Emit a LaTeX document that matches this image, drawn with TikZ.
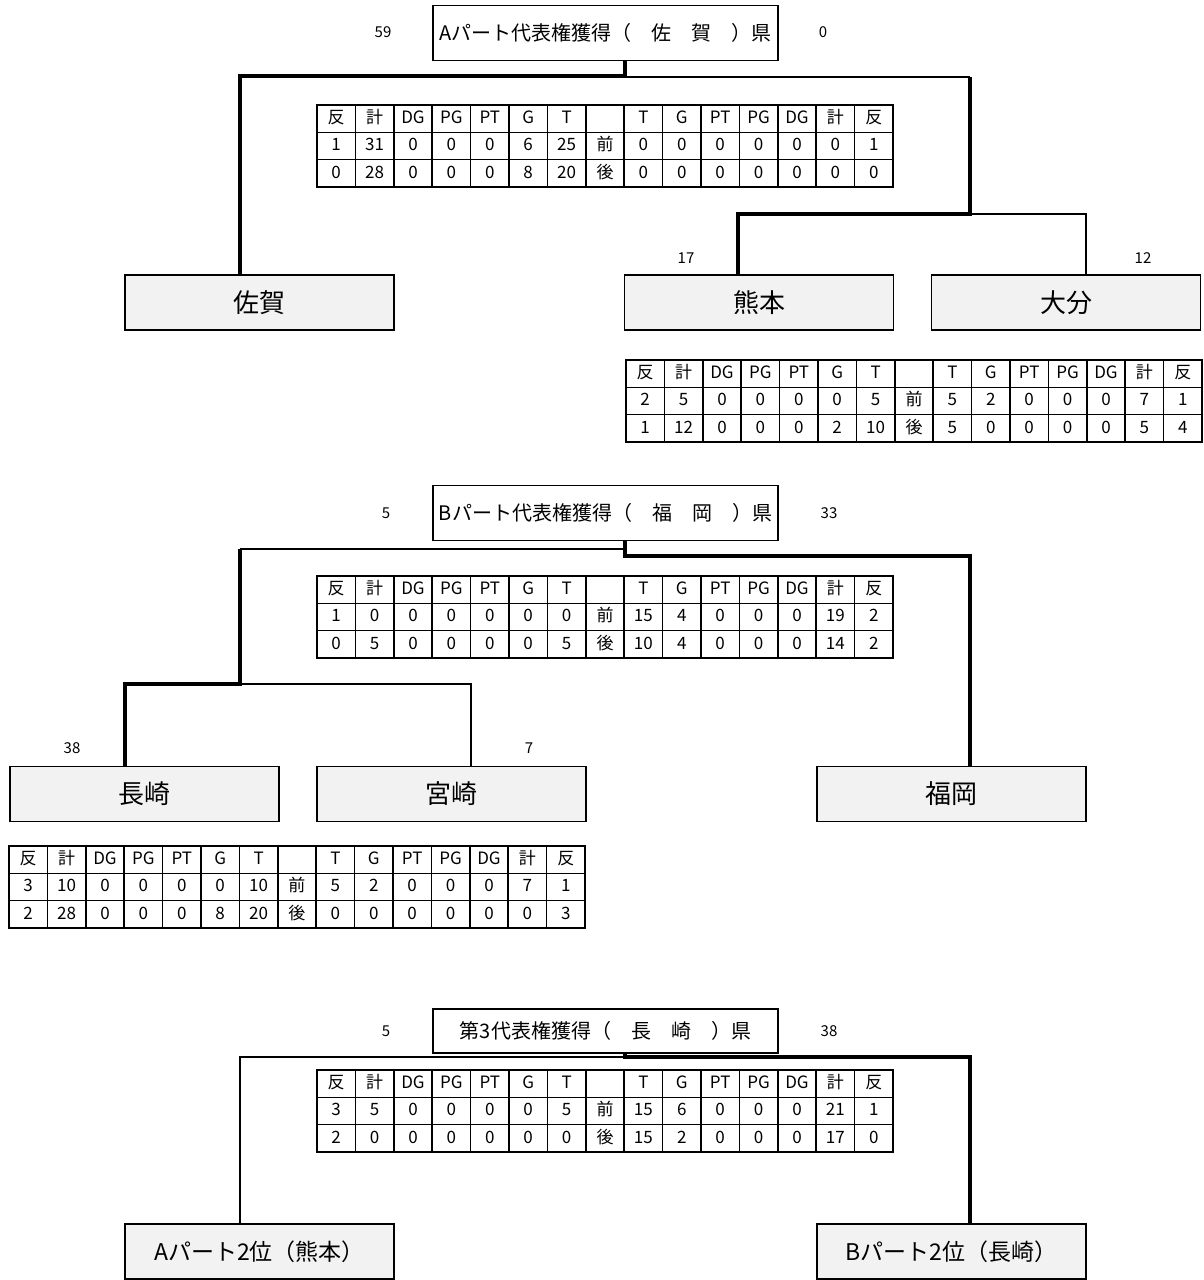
\documentclass[tikz,border=0pt]{standalone}
\usepackage{fontspec}
\newfontfamily\jpfont{Noto Sans CJK JP}
\usetikzlibrary{matrix}
\definecolor{boxgray}{HTML}{F2F2F2}

\tikzset{
  team/.style={draw, line width=1.5pt, fill=boxgray, inner sep=0pt,
    minimum width=269pt, minimum height=55pt, font=\jpfont\fontsize{26}{29}\selectfont},
  second/.style={team, font=\jpfont\fontsize{23}{26}\selectfont},
  final/.style={draw, line width=1.5pt, fill=white, inner sep=0pt,
    minimum width=345pt, minimum height=55pt, font=\jpfont\fontsize{20}{24}\selectfont},
  pts/.style={inner sep=0pt, font=\jpfont\fontsize{15}{17}\selectfont},
  win/.style={line width=4.5pt},
  lose/.style={line width=1.5pt},
  scoretab/.style={matrix of nodes, ampersand replacement=\&, nodes in empty cells,
    anchor=north west, inner sep=0pt, column sep=-1.6pt, row sep=-1.6pt,
    nodes={draw, line width=1.6pt, inner sep=0pt, anchor=center,
      minimum width=38.4pt, minimum height=27.3pt, text height=12pt, text depth=2pt,
      font=\jpfont\fontsize{17}{19}\selectfont}}
}

\newcommand{\scoresheet}[4]{%
  \matrix (#1) [scoretab] at (#2) {
    反 \& 計 \& DG \& PG \& PT \& G \& T \& \& T \& G \& PT \& PG \& DG \& 計 \& 反 \\
    #3 \\
    #4 \\
  };}

\begin{document}
\begin{tikzpicture}[x=1pt,y=-1pt]
\useasboundingbox (0,0) rectangle (1204,1280);
%
% A part
\node[final] (finA) at (605.5,33) {Aパート代表権獲得（　佐　賀　）県};
\node[pts] (ptsA1) at (383,32) {59};
\node[pts] (ptsA2) at (823,32) {0};
\node[team] (saga) at (259.5,302.5) {佐賀};
\node[team] (kuma) at (759,302.5) {熊本};
\node[team] (oita) at (1066,302.5) {大分};
\node[pts] (ptsK) at (686,258) {17};
\node[pts] (ptsO) at (1143,258) {12};
%
\coordinate (jA) at (625,76);
\coordinate (jAL) at (240,76);
\coordinate (jAR) at (970,77);
\coordinate (jK) at (970,214);
\coordinate (jKL) at (738,214);
\coordinate (jKR) at (1086,214);
\draw[win] (jA |- finA.south) -- (jA) -- (jAL) -- (jAL |- saga.north);
\draw[lose] (jA |- jAR) -- (jAR);
\draw[win] (jAR) -- (jK) -- (jKL) -- (jKL |- kuma.north);
\draw[lose] (jK) -- (jKR) -- (jKR |- oita.north);
%
\scoresheet{tabA}{316,104}
  {1 \& 31 \& 0 \& 0 \& 0 \& 6 \& 25 \& 前 \& 0 \& 0 \& 0 \& 0 \& 0 \& 0 \& 1}
  {0 \& 28 \& 0 \& 0 \& 0 \& 8 \& 20 \& 後 \& 0 \& 0 \& 0 \& 0 \& 0 \& 0 \& 0}
\scoresheet{tabKO}{625,359}
  {2 \& 5 \& 0 \& 0 \& 0 \& 0 \& 5 \& 前 \& 5 \& 2 \& 0 \& 0 \& 0 \& 7 \& 1}
  {1 \& 12 \& 0 \& 0 \& 0 \& 2 \& 10 \& 後 \& 5 \& 0 \& 0 \& 0 \& 0 \& 5 \& 4}
%
% B part
\node[final] (finB) at (605.5,513) {Bパート代表権獲得（　福　岡　）県};
\node[pts] (ptsB1) at (386,513) {5};
\node[pts] (ptsB2) at (829,513) {33};
\node[team] (naga) at (144.5,794) {長崎};
\node[team] (miya) at (451.5,794) {宮崎};
\node[team] (fuku) at (951.5,794) {福岡};
\node[pts] (ptsN) at (72,748) {38};
\node[pts] (ptsM) at (529,748) {7};
%
\coordinate (jB) at (625,556);
\coordinate (jBR) at (970,556);
\coordinate (jBL) at (240,549);
\coordinate (jN) at (240,684);
\coordinate (jNL) at (125,684);
\coordinate (jNR) at (471,684);
\draw[win] (jB |- finB.south) -- (jB) -- (jBR) -- (jBR |- fuku.north);
\draw[lose] (jB |- jBL) -- (jBL);
\draw[win] (jBL) -- (jN) -- (jNL) -- (jNL |- naga.north);
\draw[lose] (jN) -- (jNR) -- (jNR |- miya.north);
%
\scoresheet{tabB}{316,575}
  {1 \& 0 \& 0 \& 0 \& 0 \& 0 \& 0 \& 前 \& 15 \& 4 \& 0 \& 0 \& 0 \& 19 \& 2}
  {0 \& 5 \& 0 \& 0 \& 0 \& 0 \& 5 \& 後 \& 10 \& 4 \& 0 \& 0 \& 0 \& 14 \& 2}
\scoresheet{tabNM}{8,845}
  {3 \& 10 \& 0 \& 0 \& 0 \& 0 \& 10 \& 前 \& 5 \& 2 \& 0 \& 0 \& 0 \& 7 \& 1}
  {2 \& 28 \& 0 \& 0 \& 0 \& 8 \& 20 \& 後 \& 0 \& 0 \& 0 \& 0 \& 0 \& 0 \& 3}
%
% third place
\node[final, minimum height=44pt] (finC) at (605.5,1031) {第3代表権獲得（　長　崎　）県};
\node[pts] (ptsC1) at (386,1031) {5};
\node[pts] (ptsC2) at (829,1031) {38};
\node[second] (asecond) at (259.5,1251.5) {Aパート2位（熊本）};
\node[second] (bsecond) at (951.5,1251.5) {Bパート2位（長崎）};
%
\coordinate (jC) at (625,1057);
\coordinate (jCL) at (240,1057);
\coordinate (jCR) at (970,1057);
\draw[win] (jC |- finC.south) -- (jC) -- (jCR) -- (jCR |- bsecond.north);
\draw[lose] (jC) -- (jCL) -- (jCL |- asecond.north);
%
\scoresheet{tabC}{316,1069}
  {3 \& 5 \& 0 \& 0 \& 0 \& 0 \& 5 \& 前 \& 15 \& 6 \& 0 \& 0 \& 0 \& 21 \& 1}
  {2 \& 0 \& 0 \& 0 \& 0 \& 0 \& 0 \& 後 \& 15 \& 2 \& 0 \& 0 \& 0 \& 17 \& 0}
\end{tikzpicture}
\end{document}
